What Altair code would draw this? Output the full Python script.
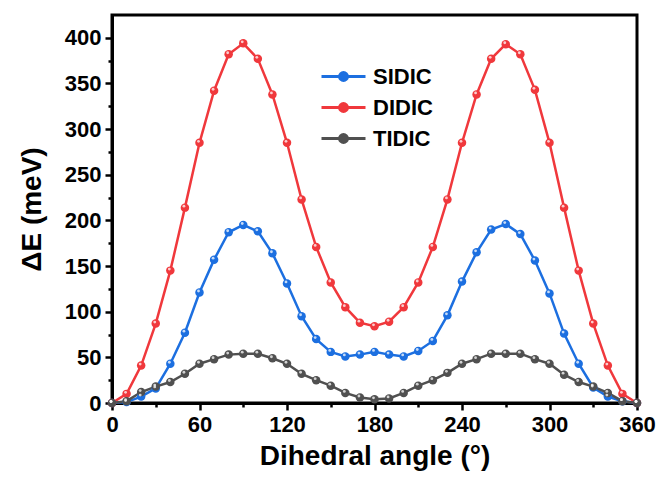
import altair as alt
import pandas as pd

angles = list(range(0, 361, 10))
sidic = [0, 1, 7, 16, 43, 77, 121, 157, 187, 195, 188, 164, 131, 95, 70, 56, 51, 53, 56,
         53, 51, 57, 68, 96, 133, 165, 190, 196, 185, 156, 120, 76, 43, 17, 7, 2, 0]
didic = [0, 10, 41, 87, 145, 214, 285, 342, 382, 394, 377, 338, 285, 223, 171, 132, 105, 88, 84,
         89, 105, 132, 171, 223, 285, 338, 377, 393, 382, 343, 285, 214, 145, 87, 41, 10, 0]
tidic = [0, 2, 12, 18, 23, 32, 43, 48, 53, 54, 54, 49, 43, 32, 25, 19, 11, 6, 4,
         5, 11, 19, 25, 33, 43, 48, 54, 54, 54, 48, 43, 31, 23, 18, 11, 2, 0]
series_names = ["SIDIC", "DIDIC", "TIDIC"]
series_colors = ["#1c6fe0", "#f0383c", "#505050"]
x_ticks = list(range(0, 361, 30))
y_ticks = list(range(0, 401, 25))

rows = []
for name, vals in zip(series_names, [sidic, didic, tidic]):
    for a, v in zip(angles, vals):
        rows.append({"angle": a, "dE": v, "series": name})
df = pd.DataFrame(rows)

FONT = "Liberation Sans"

sym_path = ("M-2,0L2,0M-0.36,0A0.36,0.36,0,1,0,0.36,0"
            "A0.36,0.36,0,1,0,-0.36,0Z")

color = alt.Color(
    "series:N",
    scale=alt.Scale(domain=series_names, range=series_colors),
    sort=series_names,
    legend=alt.Legend(
        title=None, orient="none", legendX=219, legendY=49,
        symbolType=sym_path, symbolSize=484, symbolStrokeWidth=3,
        labelFont=FONT, labelFontSize=22, labelFontWeight="bold",
        labelColor="black", labelOffset=17, rowPadding=7, padding=0,
    ),
)

x = alt.X(
    "angle:Q",
    scale=alt.Scale(domain=[0, 360], nice=False),
    axis=alt.Axis(
        values=x_ticks, title="Dihedral angle (°)",
        labelExpr="datum.value % 60 === 0 ? datum.label : ''",
        tickSize={"condition": {"test": "datum.value % 60 === 0", "value": 7}, "value": 4},
        labelPadding=4, titlePadding=7, labelFlush=False,
    ),
)
y = alt.Y(
    "dE:Q",
    scale=alt.Scale(domain=[0, 425], nice=False),
    axis=alt.Axis(
        values=y_ticks, title="ΔE (meV)",
        labelExpr="datum.value % 50 === 0 ? datum.label : ''",
        tickSize={"condition": {"test": "datum.value % 50 === 0", "value": 7}, "value": 4},
        labelPadding=4, titlePadding=18, labelFlush=False,
    ),
)

base = alt.Chart(df)
lines = base.mark_line(strokeWidth=2.5).encode(x=x, y=y, color=color, order=alt.Order("angle:Q"))
points = base.mark_point(filled=True, size=72, opacity=1).encode(x=x, y=y, color=color)
shine = base.mark_point(filled=True, size=8, opacity=0.75, xOffset=-1, yOffset=-1.5).encode(
    x=x, y=y, color=alt.value("white"))

chart = alt.layer(lines, points, shine).properties(
    width=525, height=388,
    autosize=alt.AutoSizeParams(type="none"),
    padding={"left": 112, "top": 15, "right": 26, "bottom": 74},
).configure_view(
    stroke="black", strokeWidth=3,
).configure_axis(
    grid=False, domainColor="black", domainWidth=3, tickColor="black", tickWidth=2.5,
    labelFont=FONT, labelFontSize=22, labelFontWeight="bold", labelColor="black",
    titleFont=FONT, titleFontSize=28, titleFontWeight="bold", titleColor="black",
)

chart.save("out.html", embed_options={"renderer": "svg", "actions": False})
